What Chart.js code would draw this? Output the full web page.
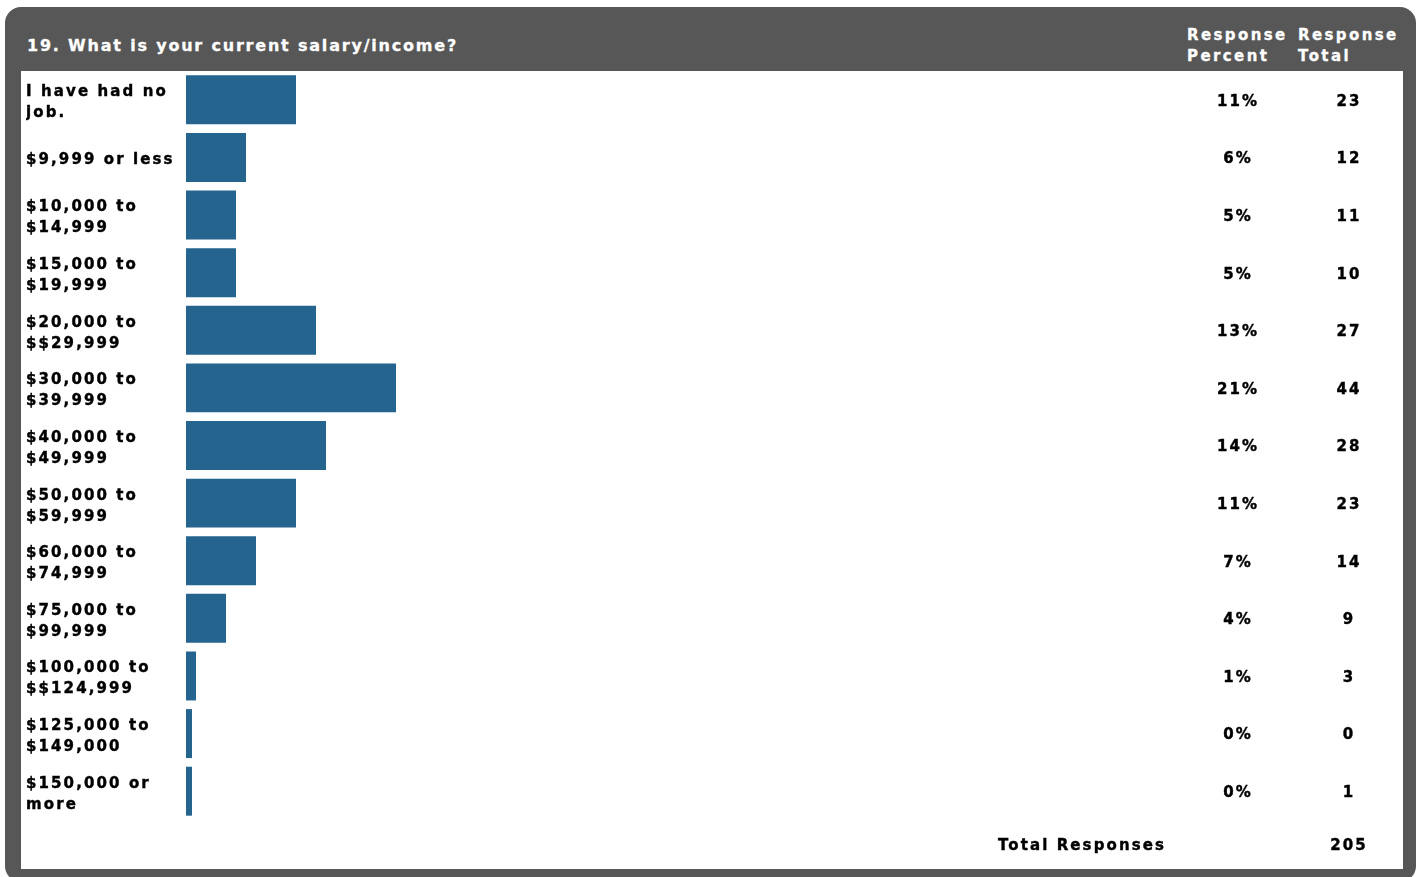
<!DOCTYPE html>
<html>
<head>
<meta charset="utf-8">
<script src="https://cdn.jsdelivr.net/npm/chart.js@4/dist/chart.umd.min.js"></script>
<style>
  html, body { margin:0; padding:0; background:#ffffff; width:1417px; height:877px; overflow:hidden; }
  body { font-family: "DejaVu Sans", Verdana, sans-serif; font-weight:bold; }
  #frame { position:absolute; left:5px; top:7px; width:1411px; height:875px; background:#575757; border-radius:16px; }
  #inner { position:absolute; left:21px; top:71px; width:1382px; height:798px; background:#ffffff; }
  #title { position:absolute; left:27px; top:36px; color:#ffffff; font-size:16px; letter-spacing:1.8px; line-height:20px; white-space:nowrap; -webkit-text-stroke:0.3px #ffffff; }
  .hdr { position:absolute; top:25px; color:#ffffff; font-size:15px; letter-spacing:2.4px; line-height:21px; white-space:nowrap; -webkit-text-stroke:0.3px #ffffff; }
  canvas { position:absolute; left:0; top:0; }
</style>
</head>
<body>
<div id="frame"></div>
<div id="inner"><canvas id="c" width="1382" height="798"></canvas></div>
<div id="title">19. What is your current salary/income?</div>
<div class="hdr" style="left:1187px;">Response<br>Percent</div>
<div class="hdr" style="left:1298px;">Response<br>Total</div>
<script>
const categories = [
  ["I have had no", "job."],
  "$9,999 or less",
  ["$10,000 to", "$14,999"],
  ["$15,000 to", "$19,999"],
  ["$20,000 to", "$$29,999"],
  ["$30,000 to", "$39,999"],
  ["$40,000 to", "$49,999"],
  ["$50,000 to", "$59,999"],
  ["$60,000 to", "$74,999"],
  ["$75,000 to", "$99,999"],
  ["$100,000 to", "$$124,999"],
  ["$125,000 to", "$149,000"],
  ["$150,000 or", "more"]
];
const responsePercent = [11, 6, 5, 5, 13, 21, 14, 11, 7, 4, 1, 0, 0];
const responseTotal = [23, 12, 11, 10, 27, 44, 28, 23, 14, 9, 3, 0, 1];
const totalLabel = "Total Responses";
const totalResponses = responseTotal.reduce((a, b) => a + b, 0);

const FONT = '"DejaVu Sans", Verdana, sans-serif';
const SPACING = '2.1px';

const spacingPlugin = {
  id: 'spacing',
  beforeInit(chart) { chart.ctx.letterSpacing = SPACING; },
  beforeDraw(chart) { chart.ctx.letterSpacing = SPACING; }
};

const columnsPlugin = {
  id: 'columns',
  afterDraw(chart) {
    const ctx = chart.ctx;
    const y = chart.scales.y;
    ctx.save();
    ctx.letterSpacing = SPACING;
    ctx.font = 'bold 15px ' + FONT;
    ctx.fillStyle = '#000000';
    ctx.strokeStyle = '#000000';
    ctx.lineWidth = 0.4;
    ctx.textBaseline = 'middle';
    ctx.textAlign = 'center';
    const xPct = 1217, xTot = 1328;
    const put = (t, x, yy) => { ctx.fillText(t, x, yy); ctx.strokeText(t, x, yy); };
    responsePercent.forEach((p, i) => {
      const py = y.getPixelForValue(i) + 2;
      put(p + '%', xPct, py);
      put(String(responseTotal[i]), xTot, py);
    });
    const ty = y.getPixelForValue(categories.length - 1) + 55;
    ctx.textAlign = 'right';
    put(totalLabel, 1145, ty);
    ctx.textAlign = 'center';
    put(String(totalResponses), xTot, ty);
    ctx.restore();
  }
};

new Chart(document.getElementById('c'), {
  type: 'bar',
  data: {
    labels: categories,
    datasets: [{
      data: responsePercent,
      backgroundColor: '#25648e',
      borderWidth: 0,
      barPercentage: 0.85,
      categoryPercentage: 1.0,
      minBarLength: 6
    }]
  },
  plugins: [spacingPlugin, columnsPlugin],
  options: {
    indexAxis: 'y',
    responsive: false,
    animation: false,
    layout: { padding: { left: 5, right: 217, top: 0, bottom: 49 } },
    plugins: { legend: { display: false }, tooltip: { enabled: false }, title: { display: false } },
    scales: {
      x: { display: false, min: 0, max: 100 },
      y: {
        grid: { display: false, drawTicks: false },
        border: { display: false },
        afterFit(scale) { scale.width = 160; scale.paddingTop = 0; scale.paddingBottom = 0; },
        ticks: {
          crossAlign: 'far',
          padding: 0,
          labelOffset: 3,
          color: '#000000',
          textStrokeColor: '#000000',
          textStrokeWidth: 0.4,
          font: { family: FONT, size: 15, weight: 'bold', lineHeight: 1.4 }
        }
      }
    }
  }
});
</script>
</body>
</html>
